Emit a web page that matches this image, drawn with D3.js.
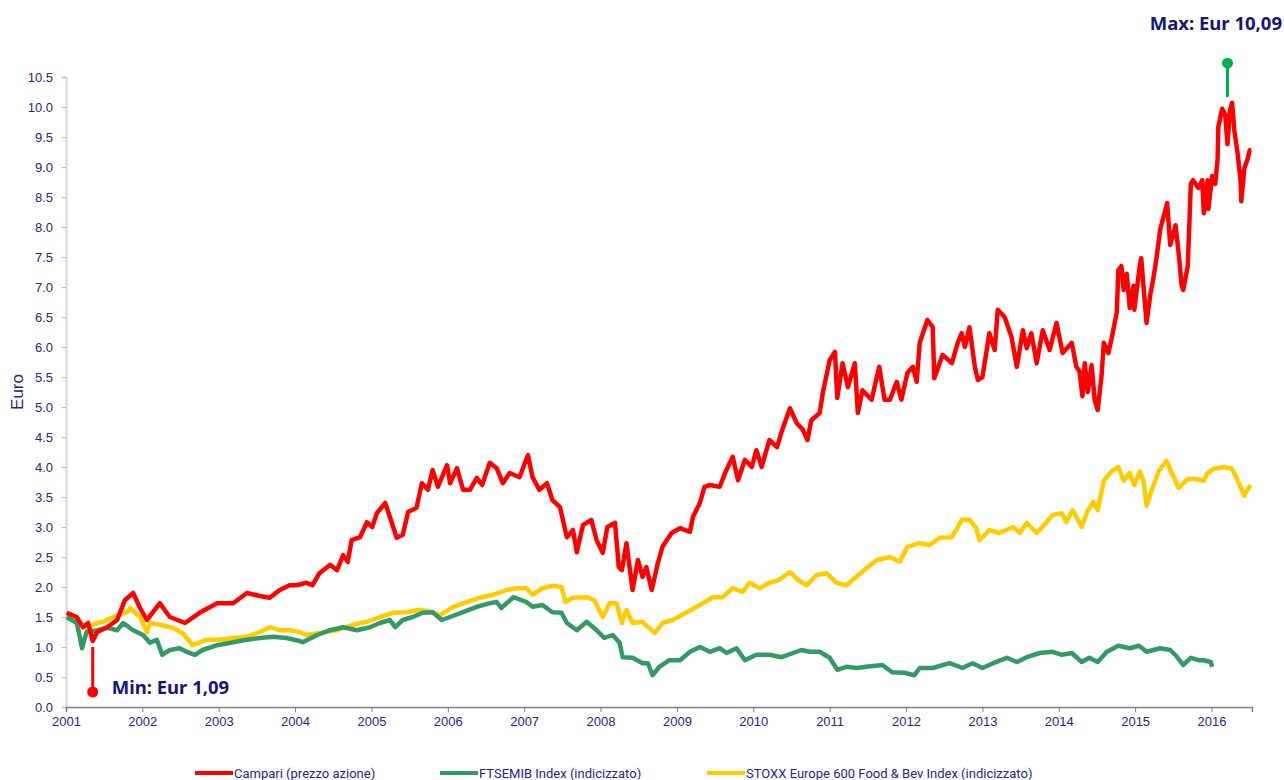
<!DOCTYPE html>
<html>
<head>
<meta charset="utf-8">
<script src="https://cdn.jsdelivr.net/npm/d3@7/dist/d3.min.js"></script>
<style>
  body { margin: 0; background: #fff; }
  svg { display: block; }
</style>
</head>
<body>
<div id="chart"></div>
<script>
// Campari share price, [decimal year, Euro]
var campari = [
  [2001.01,1.57],[2001.14,1.50],[2001.22,1.33],[2001.29,1.40],[2001.35,1.10],[2001.41,1.25],[2001.54,1.33],
  [2001.67,1.45],[2001.77,1.78],[2001.88,1.90],[2001.97,1.65],[2002.06,1.45],[2002.23,1.73],[2002.36,1.50],
  [2002.56,1.40],[2002.75,1.57],[2002.98,1.73],[2003.19,1.73],[2003.37,1.90],[2003.54,1.85],[2003.67,1.82],
  [2003.80,1.95],[2003.93,2.03],[2004.02,2.03],[2004.15,2.07],[2004.23,2.03],[2004.32,2.23],[2004.46,2.37],
  [2004.55,2.28],[2004.63,2.53],[2004.69,2.42],[2004.74,2.78],[2004.85,2.83],[2004.94,3.08],[2005.01,3.00],
  [2005.07,3.23],[2005.18,3.40],[2005.24,3.17],[2005.33,2.82],[2005.41,2.87],[2005.48,3.25],[2005.59,3.32],
  [2005.66,3.73],[2005.74,3.62],[2005.80,3.95],[2005.87,3.67],[2005.99,4.03],[2006.03,3.73],[2006.12,3.98],
  [2006.20,3.62],[2006.29,3.62],[2006.38,3.82],[2006.45,3.70],[2006.55,4.07],[2006.64,3.98],[2006.72,3.73],
  [2006.81,3.90],[2006.94,3.83],[2007.05,4.20],[2007.11,3.83],[2007.20,3.62],[2007.30,3.73],[2007.37,3.45],
  [2007.47,3.33],[2007.56,2.83],[2007.64,2.95],[2007.69,2.58],[2007.77,3.03],[2007.88,3.12],[2007.95,2.78],
  [2008.03,2.57],[2008.09,3.00],[2008.19,3.07],[2008.24,2.33],[2008.28,2.28],[2008.34,2.73],[2008.42,1.95],
  [2008.49,2.45],[2008.55,2.17],[2008.60,2.33],[2008.67,1.95],[2008.75,2.40],[2008.81,2.67],[2008.93,2.90],
  [2009.04,2.98],[2009.17,2.92],[2009.21,3.17],[2009.30,3.40],[2009.36,3.67],[2009.43,3.70],[2009.56,3.67],
  [2009.63,3.90],[2009.73,4.17],[2009.80,3.78],[2009.89,4.12],[2009.98,4.00],[2010.04,4.28],[2010.11,4.00],
  [2010.21,4.45],[2010.31,4.33],[2010.38,4.62],[2010.48,4.98],[2010.57,4.73],[2010.65,4.62],[2010.71,4.45],
  [2010.76,4.78],[2010.87,4.90],[2010.91,5.23],[2011.00,5.78],[2011.07,5.92],[2011.10,5.15],[2011.17,5.73],
  [2011.24,5.33],[2011.33,5.73],[2011.37,4.90],[2011.43,5.28],[2011.55,5.12],[2011.65,5.67],[2011.72,5.12],
  [2011.79,5.12],[2011.88,5.42],[2011.94,5.12],[2012.02,5.57],[2012.09,5.67],[2012.14,5.42],[2012.18,6.07],
  [2012.28,6.45],[2012.35,6.33],[2012.37,5.48],[2012.48,5.87],[2012.60,5.73],[2012.68,6.08],[2012.73,6.23],
  [2012.77,6.00],[2012.83,6.33],[2012.90,5.67],[2012.94,5.45],[2013.00,5.50],[2013.09,6.23],[2013.16,5.95],
  [2013.20,6.62],[2013.29,6.50],[2013.38,6.17],[2013.45,5.67],[2013.53,6.28],[2013.58,5.98],[2013.64,6.23],
  [2013.71,5.73],[2013.79,6.28],[2013.88,5.95],[2013.97,6.40],[2014.05,5.90],[2014.17,6.07],[2014.23,5.67],
  [2014.27,5.60],[2014.31,5.18],[2014.34,5.73],[2014.38,5.25],[2014.43,5.70],[2014.47,5.12],[2014.51,4.95],
  [2014.56,5.52],[2014.59,6.07],[2014.65,5.90],[2014.69,6.13],[2014.76,6.58],[2014.78,7.28],[2014.82,7.35],
  [2014.85,6.95],[2014.89,7.22],[2014.93,6.65],[2014.98,7.02],[2014.99,6.62],[2015.06,7.35],[2015.08,7.48],
  [2015.15,6.40],[2015.20,6.88],[2015.24,7.15],[2015.28,7.48],[2015.33,7.97],[2015.40,8.30],[2015.42,8.40],
  [2015.46,7.70],[2015.53,8.03],[2015.57,7.57],[2015.61,7.02],[2015.63,6.95],[2015.69,7.35],[2015.73,8.72],
  [2015.76,8.78],[2015.83,8.65],[2015.88,8.78],[2015.90,8.23],[2015.95,8.78],[2015.96,8.30],[2016.01,8.85],
  [2016.05,8.72],[2016.08,9.12],[2016.09,9.67],[2016.14,9.97],[2016.18,9.87],[2016.21,9.38],[2016.24,9.93],
  [2016.27,10.07],[2016.30,9.60],[2016.34,9.25],[2016.38,8.78],[2016.39,8.43],[2016.43,8.98],[2016.47,9.12],
  [2016.50,9.28],[2016.52,9.28]
];

// FTSEMIB index, rebased
var ftsemib = [
  [2001.01,1.50],[2001.14,1.40],[2001.18,1.17],[2001.21,0.98],[2001.27,1.25],[2001.41,1.28],[2001.54,1.32],
  [2001.67,1.28],[2001.75,1.40],[2001.88,1.28],[2002.01,1.20],[2002.10,1.07],[2002.19,1.12],[2002.26,0.87],
  [2002.36,0.95],[2002.49,0.98],[2002.58,0.92],[2002.69,0.87],[2002.79,0.95],[2002.98,1.03],[2003.19,1.08],
  [2003.37,1.12],[2003.54,1.15],[2003.71,1.17],[2003.89,1.15],[2004.06,1.10],[2004.10,1.08],[2004.29,1.20],
  [2004.46,1.28],[2004.63,1.33],[2004.81,1.28],[2004.98,1.33],[2005.11,1.40],[2005.24,1.45],[2005.31,1.33],
  [2005.41,1.45],[2005.54,1.50],[2005.67,1.57],[2005.80,1.58],[2005.92,1.45],[2006.03,1.50],[2006.20,1.58],
  [2006.38,1.67],[2006.55,1.73],[2006.64,1.75],[2006.70,1.65],[2006.86,1.83],[2007.03,1.75],[2007.11,1.67],
  [2007.24,1.70],[2007.37,1.58],[2007.49,1.57],[2007.56,1.40],[2007.69,1.28],[2007.82,1.42],[2007.95,1.28],
  [2008.05,1.15],[2008.16,1.20],[2008.25,1.07],[2008.29,0.83],[2008.42,0.82],[2008.55,0.73],[2008.62,0.73],
  [2008.68,0.53],[2008.77,0.67],[2008.90,0.78],[2009.04,0.78],[2009.17,0.92],[2009.30,1.00],[2009.43,0.92],
  [2009.56,0.98],[2009.65,0.90],[2009.78,0.98],[2009.89,0.78],[2010.04,0.87],[2010.21,0.87],[2010.37,0.83],
  [2010.52,0.90],[2010.63,0.95],[2010.74,0.92],[2010.87,0.92],[2011.00,0.82],[2011.10,0.62],[2011.22,0.67],
  [2011.35,0.65],[2011.48,0.67],[2011.69,0.70],[2011.82,0.58],[2011.98,0.57],[2012.11,0.53],[2012.18,0.65],
  [2012.35,0.65],[2012.57,0.73],[2012.74,0.65],[2012.87,0.73],[2013.00,0.65],[2013.14,0.73],[2013.32,0.82],
  [2013.45,0.75],[2013.58,0.83],[2013.75,0.90],[2013.92,0.92],[2014.04,0.87],[2014.17,0.90],[2014.30,0.75],
  [2014.40,0.82],[2014.51,0.75],[2014.63,0.92],[2014.78,1.02],[2014.93,0.98],[2015.05,1.02],[2015.15,0.92],
  [2015.33,0.98],[2015.46,0.95],[2015.54,0.85],[2015.63,0.70],[2015.73,0.82],[2015.83,0.78],[2015.90,0.78],
  [2015.99,0.75],[2016.01,0.67]
];

// STOXX Europe 600 Food & Bev index, rebased
var stoxx = [
  [2001.01,1.53],[2001.18,1.40],[2001.27,1.32],[2001.41,1.40],[2001.49,1.42],[2001.62,1.50],[2001.80,1.58],
  [2001.84,1.65],[2001.97,1.50],[2002.06,1.25],[2002.10,1.40],[2002.23,1.37],[2002.40,1.32],[2002.53,1.23],
  [2002.66,1.03],[2002.84,1.12],[2003.01,1.12],[2003.19,1.15],[2003.37,1.17],[2003.54,1.25],[2003.67,1.33],
  [2003.80,1.28],[2003.93,1.28],[2004.06,1.25],[2004.15,1.20],[2004.30,1.23],[2004.55,1.28],[2004.76,1.37],
  [2004.94,1.42],[2005.11,1.50],[2005.28,1.57],[2005.46,1.58],[2005.63,1.62],[2005.80,1.58],[2005.90,1.53],
  [2006.07,1.67],[2006.25,1.75],[2006.42,1.82],[2006.59,1.87],[2006.77,1.95],[2006.90,1.98],[2007.03,1.98],
  [2007.11,1.87],[2007.24,1.98],[2007.38,2.02],[2007.49,2.00],[2007.54,1.75],[2007.64,1.82],[2007.82,1.83],
  [2007.92,1.78],[2008.03,1.50],[2008.12,1.73],[2008.21,1.73],[2008.28,1.40],[2008.34,1.62],[2008.42,1.40],
  [2008.55,1.42],[2008.71,1.23],[2008.81,1.40],[2008.94,1.45],[2009.13,1.58],[2009.30,1.70],[2009.47,1.83],
  [2009.60,1.83],[2009.73,1.98],[2009.86,1.92],[2009.95,2.07],[2010.08,1.98],[2010.21,2.07],[2010.34,2.12],
  [2010.48,2.25],[2010.58,2.12],[2010.70,2.03],[2010.83,2.20],[2010.96,2.23],[2011.09,2.07],[2011.22,2.03],
  [2011.35,2.17],[2011.49,2.32],[2011.62,2.45],[2011.79,2.50],[2011.92,2.42],[2012.02,2.67],[2012.18,2.73],
  [2012.31,2.70],[2012.44,2.82],[2012.60,2.83],[2012.73,3.12],[2012.83,3.12],[2012.92,2.98],[2012.96,2.78],
  [2013.09,2.95],[2013.22,2.90],[2013.40,3.00],[2013.49,2.90],[2013.58,3.07],[2013.71,2.90],[2013.84,3.08],
  [2013.92,3.20],[2014.04,3.23],[2014.10,3.08],[2014.18,3.28],[2014.30,3.00],[2014.37,3.25],[2014.45,3.42],
  [2014.51,3.28],[2014.59,3.77],[2014.69,3.93],[2014.78,4.00],[2014.85,3.77],[2014.93,3.90],[2014.99,3.70],
  [2015.06,3.93],[2015.11,3.77],[2015.15,3.35],[2015.22,3.62],[2015.31,3.93],[2015.41,4.10],[2015.48,3.90],
  [2015.57,3.65],[2015.69,3.80],[2015.79,3.80],[2015.90,3.77],[2015.95,3.90],[2016.03,3.97],[2016.16,4.00],
  [2016.27,3.97],[2016.37,3.70],[2016.43,3.52],[2016.47,3.62],[2016.51,3.70]
];

var seriesNames = ["Campari (prezzo azione)", "FTSEMIB Index (indicizzato)", "STOXX Europe 600 Food & Bev Index (indicizzato)"];
var seriesColors = ["#ff0000", "#339966", "#ffcc00"];

// min / max callouts: [decimal year, line top, line bottom (dot)]
var minMark = [2001.35, 1.00, 0.25];
var maxMark = [2016.21, 10.17, 10.73];
var minLabel = "Min: Eur 1,09";
var maxLabel = "Max: Eur 10,09";

var yTicks = d3.range(0, 10.51, 0.5);
var xYears = d3.range(2001, 2017);

var width = 1284, height = 780;
var margin = {top: 77, right: 32, bottom: 73, left: 66};
var navy = "#24248f";

// decimal year -> Date
function toDate(y) {
    var yr = Math.floor(y);
    var a = new Date(yr, 0, 1), b = new Date(yr + 1, 0, 1);
    return new Date(+a + (y - yr) * (b - a));
}

var svg = d3.select("#chart").append("svg")
    .attr("width", width)
    .attr("height", height);

var x = d3.scaleTime()
    .domain([toDate(2001), toDate(2016.53)])
    .range([margin.left, width - margin.right]);

var y = d3.scaleLinear()
    .domain([0, 10.5])
    .range([height - margin.bottom, margin.top]);

// y axis
var yAxis = svg.append("g")
    .attr("transform", "translate(" + margin.left + ",0)")
    .call(d3.axisLeft(y).tickValues(yTicks).tickFormat(d3.format(".1f")).tickSize(4).tickPadding(9));
yAxis.select(".domain").attr("stroke", "#d9d9d9").attr("stroke-width", 2);
yAxis.selectAll(".tick line").attr("stroke", "#bfbfbf");
yAxis.selectAll("text").attr("fill", navy).style("font-family", "Liberation Sans, Arial, sans-serif").style("font-size", "13px");

// x axis
var xAxis = svg.append("g")
    .attr("transform", "translate(0," + (height - margin.bottom) + ")")
    .call(d3.axisBottom(x).tickValues(xYears.map(toDate)).tickFormat(d3.timeFormat("%Y")).tickSize(5).tickPadding(5));
xAxis.select(".domain").attr("stroke", "#808080").attr("stroke-width", 1.5);
xAxis.selectAll(".tick line").attr("stroke", "#808080");
xAxis.selectAll("text").attr("fill", navy).style("font-family", "Liberation Sans, Arial, sans-serif").style("font-size", "13px");

// y label
svg.append("text")
    .attr("transform", "translate(23," + ((margin.top + height - margin.bottom) / 2) + ") rotate(-90)")
    .attr("text-anchor", "middle")
    .attr("fill", navy)
    .style("font-family", "Liberation Sans, Arial, sans-serif")
    .style("font-size", "17px")
    .text("Euro");

var line = d3.line()
    .x(function (d) { return x(toDate(d[0])); })
    .y(function (d) { return y(d[1]); });

// draw order: yellow, green, red on top
[stoxx, ftsemib, campari].forEach(function (s, i) {
    var idx = 2 - i;
    svg.append("path")
        .datum(s)
        .attr("fill", "none")
        .attr("stroke", seriesColors[idx])
        .attr("stroke-width", 4.5)
        .attr("stroke-linejoin", "round")
        .attr("d", line);
});

// min marker
svg.append("line")
    .attr("x1", x(toDate(minMark[0]))).attr("x2", x(toDate(minMark[0])))
    .attr("y1", y(minMark[1])).attr("y2", y(minMark[2]))
    .attr("stroke", "#ff0000").attr("stroke-width", 3);
svg.append("circle")
    .attr("cx", x(toDate(minMark[0]))).attr("cy", y(minMark[2])).attr("r", 5.5)
    .attr("fill", "#ff0000");
svg.append("text")
    .attr("x", x(toDate(minMark[0])) + 19).attr("y", y(minMark[2]) + 2)
    .attr("fill", "#15157a")
    .style("font-family", "Noto Sans, Open Sans, sans-serif")
    .style("font-weight", "bold")
    .style("font-size", "18.5px")
    .text(minLabel);

// max marker
svg.append("line")
    .attr("x1", x(toDate(maxMark[0]))).attr("x2", x(toDate(maxMark[0])))
    .attr("y1", y(maxMark[1])).attr("y2", y(maxMark[2]))
    .attr("stroke", "#00b050").attr("stroke-width", 3);
svg.append("circle")
    .attr("cx", x(toDate(maxMark[0]))).attr("cy", y(maxMark[2])).attr("r", 5.5)
    .attr("fill", "#00b050");
svg.append("text")
    .attr("x", width - 2).attr("y", 30)
    .attr("text-anchor", "end")
    .attr("fill", "#15157a")
    .style("font-family", "Noto Sans, Open Sans, sans-serif")
    .style("font-weight", "bold")
    .style("font-size", "18.5px")
    .text(maxLabel);

// legend
var legendX = [195, 440, 707];
var legend = svg.append("g").attr("transform", "translate(0,773)");
seriesNames.forEach(function (name, i) {
    legend.append("line")
        .attr("x1", legendX[i]).attr("x2", legendX[i] + 38)
        .attr("stroke", seriesColors[i]).attr("stroke-width", 4);
    legend.append("text")
        .attr("x", legendX[i] + 39).attr("y", 5)
        .attr("fill", navy)
        .style("font-family", "Liberation Sans Narrow, Roboto, sans-serif")
        .style("font-size", "13px")
        .text(name);
});
</script>
</body>
</html>
